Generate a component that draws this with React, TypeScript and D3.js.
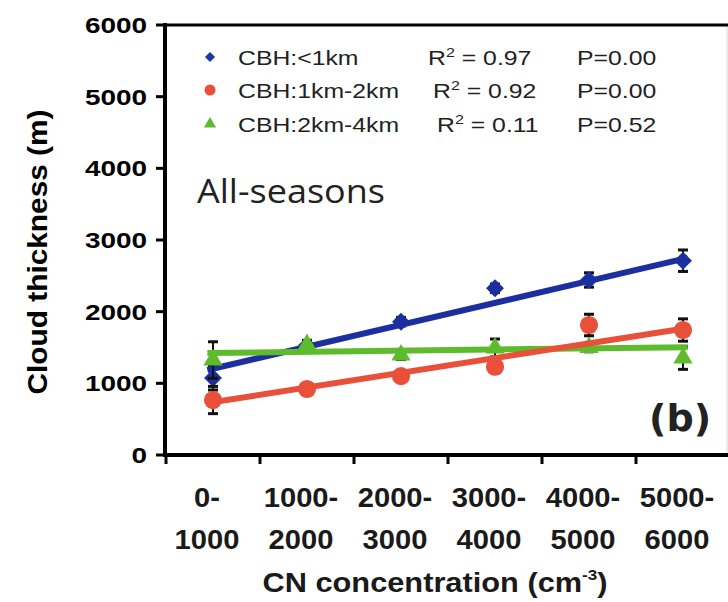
import React, { useRef, useEffect } from 'react';
import * as d3 from 'd3';

// CN concentration bins (cm^-3), drawn on two lines
const binTop = ["0-", "1000-", "2000-", "3000-", "4000-", "5000-"];
const binBottom = ["1000", "2000", "3000", "4000", "5000", "6000"];
const yTicks = [0, 1000, 2000, 3000, 4000, 5000, 6000];

// cloud thickness (m) per bin
const lowCBH = [1074, 1530, 1860, 2326, 2442, 2711];
const lowErr = [167, 60, 60, 60, 100, 150];
const midCBH = [767, 921, 1100, 1232, 1814, 1744];
const midErr = [190, 60, 60, 60, 150, 156];
const highCBH = [1325, 1540, 1395, 1493, 1500, 1353];
const highErr = [255, 60, 60, 125, 60, 158];

// fitted lines, value at left end and right end
const lowFit = [1186, 2750];
const midFit = [725, 1772];
const highFit = [1423, 1505];

const seriesNames = ["CBH:<1km", "CBH:1km-2km", "CBH:2km-4km"];
const r2Labels = ["0.97", "0.92", "0.11"];
const pLabels = ["0.00", "0.00", "0.52"];

const BLUE = "#1b2fa0";
const RED = "#e8503a";
const GREEN = "#5dbb2c";

const App = () => {
  const svgRef = useRef(null);

  useEffect(() => {
    const svg = d3.select(svgRef.current);
    svg.selectAll("*").remove();

    const y = d3.scaleLinear().domain([0, 6000]).range([455, 25]);
    // category axis: bin edges at integers, points at bin centres
    const x = d3.scaleLinear().domain([0, 6]).range([166, 730]);
    const fitX = [0.44, 5.55];

    const sans = "'Liberation Sans', Arial, sans-serif";

    svg.append("rect").attr("width", 728).attr("height", 602).attr("fill", "#fff");
    svg.append("line").attr("x1", 727).attr("x2", 727).attr("y1", 25).attr("y2", 455)
      .attr("stroke", "#d8d8d8").attr("stroke-width", 1);

    // frame
    svg.append("line").attr("x1", 165).attr("x2", 728).attr("y1", y(6000)).attr("y2", y(6000))
      .attr("stroke", "#000").attr("stroke-width", 3);
    svg.append("line").attr("x1", 165).attr("x2", 165).attr("y1", 23).attr("y2", 457)
      .attr("stroke", "#000").attr("stroke-width", 4);
    svg.append("line").attr("x1", 163).attr("x2", 728).attr("y1", y(0)).attr("y2", y(0))
      .attr("stroke", "#000").attr("stroke-width", 4);

    // y ticks + labels (labels are stretched horizontally in the original)
    yTicks.forEach(v => {
      svg.append("line").attr("x1", 156).attr("x2", 165).attr("y1", y(v)).attr("y2", y(v))
        .attr("stroke", "#000").attr("stroke-width", 3);
      svg.append("text")
        .attr("transform", `translate(147,${y(v) + 8}) scale(1.27,1)`)
        .attr("text-anchor", "end")
        .style("font-family", sans).style("font-weight", "bold").style("font-size", "22px")
        .attr("fill", "#000")
        .text(v);
    });

    // x ticks + two-line labels
    d3.range(0, 7).forEach(k => {
      svg.append("line").attr("x1", x(k)).attr("x2", x(k)).attr("y1", 455).attr("y2", 464)
        .attr("stroke", "#000").attr("stroke-width", 3);
    });
    binTop.forEach((t, i) => {
      const cx = x(i + 0.5) - 6;
      [[t, 507], [binBottom[i], 549]].forEach(([str, ty]) => {
        svg.append("text")
          .attr("transform", `translate(${cx},${ty}) scale(1.08,1)`)
          .attr("text-anchor", "middle")
          .style("font-family", sans).style("font-weight", "bold").style("font-size", "27px")
          .attr("fill", "#1a1a1a").text(str);
      });
    });

    // axis titles
    const xt = svg.append("text")
      .attr("transform", "translate(435,592) scale(1.14,1)")
      .attr("text-anchor", "middle")
      .style("font-family", sans).style("font-weight", "bold").style("font-size", "27px")
      .attr("fill", "#1a1a1a");
    xt.append("tspan").text("CN concentration (cm");
    xt.append("tspan").attr("dy", -12).style("font-size", "15px").text("-3");
    xt.append("tspan").attr("dy", 12).text(")");

    svg.append("text")
      .attr("transform", "translate(47,252) rotate(-90)")
      .attr("text-anchor", "middle")
      .attr("textLength", 285).attr("lengthAdjust", "spacingAndGlyphs")
      .style("font-family", sans).style("font-weight", "bold").style("font-size", "28px")
      .attr("fill", "#000")
      .text("Cloud thickness (m)");

    const series = [
      { vals: lowCBH, err: lowErr, fit: lowFit, color: BLUE, shape: "diamond" },
      { vals: highCBH, err: highErr, fit: highFit, color: GREEN, shape: "triangle" },
      { vals: midCBH, err: midErr, fit: midFit, color: RED, shape: "circle" },
    ];

    const symbolPath = (shape, big) => {
      if (shape === "diamond") return d3.symbol(d3.symbolSquare, big ? 160 : 52)();
      if (shape === "triangle") return d3.symbol(d3.symbolTriangle, big ? 160 : 64)();
      return d3.symbol(d3.symbolCircle, big ? 260 : 95)();
    };

    const g = svg.append("g");
    series.forEach(s => {
      // error bars
      s.vals.forEach((v, i) => {
        const cx = x(i + 0.5);
        const e = s.err[i];
        g.append("line").attr("x1", cx).attr("x2", cx).attr("y1", y(v - e)).attr("y2", y(v + e))
          .attr("stroke", "#111").attr("stroke-width", 2);
        [v - e, v + e].forEach(c => {
          g.append("line").attr("x1", cx - 5).attr("x2", cx + 5).attr("y1", y(c)).attr("y2", y(c))
            .attr("stroke", "#111").attr("stroke-width", 3);
        });
      });
      // markers
      g.selectAll(null)
        .data(s.vals)
        .join("path")
        .attr("d", symbolPath(s.shape, true))
        .attr("transform", (d, i) =>
          `translate(${x(i + 0.5)},${y(d)})` + (s.shape === "diamond" ? " rotate(45)" : ""))
        .attr("fill", s.color);
      // regression line
      g.append("line")
        .attr("x1", x(fitX[0])).attr("y1", y(s.fit[0]))
        .attr("x2", x(fitX[1])).attr("y2", y(s.fit[1]))
        .attr("stroke", s.color).attr("stroke-width", 6);
    });

    // legend
    const legendShapes = [
      { shape: "diamond", color: "#1c3a9e" },
      { shape: "circle", color: RED },
      { shape: "triangle", color: GREEN },
    ];
    const rowY = [65, 98, 132];
    const r2X = [428, 433, 437];
    legendShapes.forEach((l, i) => {
      svg.append("path")
        .attr("d", symbolPath(l.shape, false))
        .attr("transform", `translate(210,${rowY[i] - 8})` + (l.shape === "diamond" ? " rotate(45)" : ""))
        .attr("fill", l.color);
      const txt = (tx, str) => svg.append("text")
        .attr("transform", `translate(${tx},${rowY[i]}) scale(1.24,1)`)
        .style("font-family", sans).style("font-size", "20px").attr("fill", "#222")
        .text(str);
      txt(238, seriesNames[i]);
      const r = txt(r2X[i], "R");
      r.append("tspan").attr("dy", -8).style("font-size", "13px").text("2");
      r.append("tspan").attr("dy", 8).text(` = ${r2Labels[i]}`);
      txt(577, `P=${pLabels[i]}`);
    });

    svg.append("text").attr("x", 197).attr("y", 203)
      .attr("textLength", 188).attr("lengthAdjust", "spacingAndGlyphs")
      .style("font-family", "'Open Sans', sans-serif").style("font-size", "32px")
      .attr("fill", "#222")
      .text("All-seasons");

    svg.append("text").attr("x", 711).attr("y", 431).attr("text-anchor", "end")
      .style("font-family", "'DejaVu Sans', sans-serif").style("font-weight", "bold").style("font-size", "38px")
      .attr("fill", "#222")
      .text("(b)");
  }, []);

  return (
    <div style={{ position: "absolute", left: 0, top: 0 }}>
      <svg ref={svgRef} width={728} height={602} style={{ display: "block" }}></svg>
    </div>
  );
};

export default App;
